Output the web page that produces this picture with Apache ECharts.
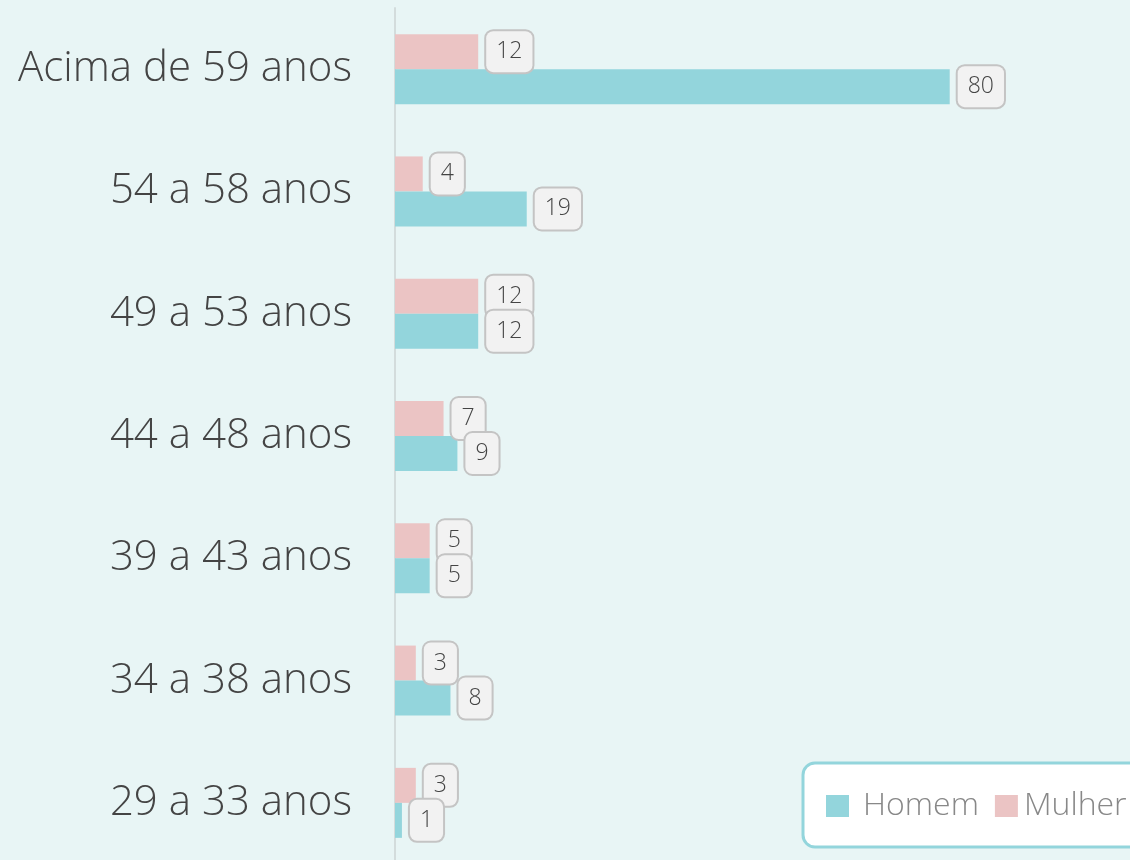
<!DOCTYPE html>
<html><head><meta charset="utf-8">
<style>html,body{margin:0;padding:0;background:#e8f5f5;}#c{width:1130px;height:860px;}</style>
<script src="https://cdn.jsdelivr.net/npm/echarts@6/dist/echarts.min.js"></script>
</head><body><div id="c"></div>
<script>
const categories = ['Acima de 59 anos','54 a 58 anos','49 a 53 anos','44 a 48 anos','39 a 43 anos','34 a 38 anos','29 a 33 anos'];
const homem = [80, 19, 12, 9, 5, 8, 1];
const mulher = [12, 4, 12, 7, 5, 3, 3];

const labelStyle = {
  show: true, position: 'right', distance: 8,
  backgroundColor: '#f2f2f2', borderColor: '#c4c4c4', borderWidth: 2, borderRadius: 7,
  padding: [8, 10, 7, 10], fontSize: 23, lineHeight: 26, color: '#444',
  fontFamily: 'Open Sans', fontWeight: 300
};
const chart = echarts.init(document.getElementById('c'));
chart.setOption({
  backgroundColor: '#e8f5f5',
  animation: false,
  grid: { left: 395, right: 0, top: 8, height: 856, containLabel: false, outerBoundsMode: 'none' },
  xAxis: { type: 'value', min: 0, max: 106, show: false },
  yAxis: {
    type: 'category', data: categories, inverse: true,
    axisLine: { lineStyle: { color: '#d3dcdc', width: 2 } },
    axisTick: { show: false },
    axisLabel: { margin: 43, fontSize: 42, color: '#444', fontFamily: 'Open Sans', fontWeight: 300, padding: [9, 0, 0, 0] }
  },
  legend: {
    data: [
      { name: 'Homem', textStyle: { padding: [0, 0, 0, 9] } },
      { name: 'Mulher', textStyle: { padding: [0, 0, 0, 1] } }
    ],
    left: 803, top: 763, width: 460,
    padding: [27, 20, 25, 23],
    backgroundColor: '#fff', borderColor: '#93d5dc', borderWidth: 3, borderRadius: 12,
    itemWidth: 23, itemHeight: 22, itemGap: 16, icon: 'rect',
    textStyle: { fontSize: 32, color: '#888', fontFamily: 'Open Sans', fontWeight: 300 }
  },
  series: [
    { name: 'Mulher', type: 'bar', data: mulher, barWidth: 35, barGap: '0%',
      itemStyle: { color: '#ebc4c4' }, label: labelStyle },
    { name: 'Homem', type: 'bar', data: homem, barWidth: 35, barGap: '0%',
      itemStyle: { color: '#93d5dc' }, label: labelStyle }
  ]
});
</script></body></html>
